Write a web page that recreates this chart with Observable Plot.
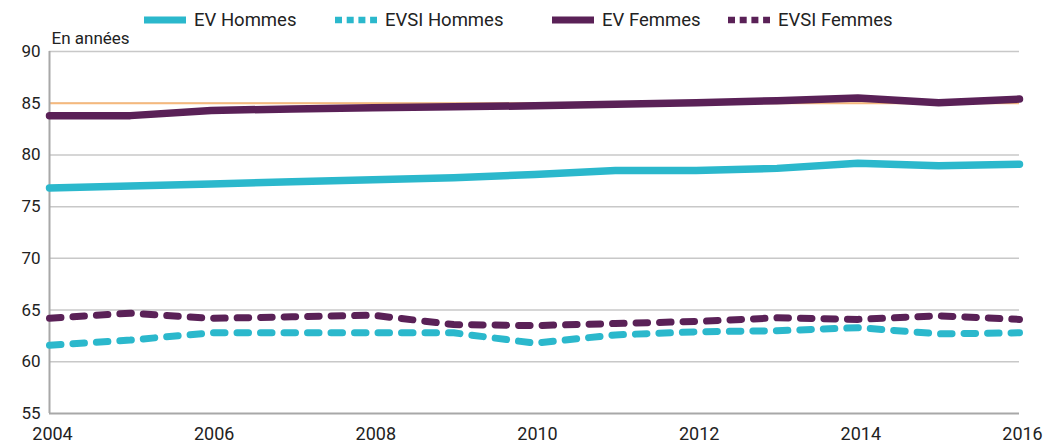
<!DOCTYPE html>
<html>
<head>
<meta charset="utf-8">
<script src="https://cdn.jsdelivr.net/npm/d3@7"></script>
<script src="https://cdn.jsdelivr.net/npm/@observablehq/plot@0.6"></script>
<style>
  html, body { margin: 0; padding: 0; background: #fff; }
  #wrap { width: 1049px; font-family: Roboto, sans-serif; color: #222; }
  #legend { position: relative; width: 1049px; height: 30px; }
  .item { position: absolute; top: 0; height: 40px; display: flex; align-items: center; font-size: 18.5px; white-space: nowrap; }
  .item svg { margin-right: 8px; }
  #chart svg { display: block; }
</style>
</head>
<body>
<div id="wrap">
  <div id="legend"></div>
  <div id="chart"></div>
</div>
<script>
// ---- Data ----
const years      = [2004, 2005, 2006, 2007, 2008, 2009, 2010, 2011, 2012, 2013, 2014, 2015, 2016];
const evHommes   = [76.8, 77.0, 77.2, 77.4, 77.6, 77.8, 78.1, 78.5, 78.5, 78.7, 79.2, 78.95, 79.1];
const evsiHommes = [61.6, 62.1, 62.8, 62.8, 62.8, 62.8, 61.8, 62.6, 62.9, 63.0, 63.3, 62.7, 62.8];
const evFemmes   = [83.8, 83.8, 84.3, 84.45, 84.55, 84.65, 84.75, 84.9, 85.05, 85.25, 85.5, 85.05, 85.4];
const evsiFemmes = [64.2, 64.7, 64.2, 64.35, 64.5, 63.6, 63.5, 63.7, 63.9, 64.25, 64.1, 64.45, 64.1];

const seriesNames = ["EV Hommes", "EVSI Hommes", "EV Femmes", "EVSI Femmes"];
const xTicks = [2004, 2006, 2008, 2010, 2012, 2014, 2016];
const yTicks = [55, 60, 65, 70, 75, 80, 85, 90];
const refLine = [85];
const yLabel = "En années";

// ---- Styles ----
const cyan = "#2bb8cc";
const purple = "#5a2157";
const styles = {
  "EV Hommes":   {color: cyan,   dash: null},
  "EVSI Hommes": {color: cyan,   dash: "11.5 12"},
  "EV Femmes":   {color: purple, dash: null},
  "EVSI Femmes": {color: purple, dash: "11.5 12"}
};
const legendLeft = [144, 335, 552, 728];

const valuesBySeries = {
  "EV Hommes": evHommes,
  "EVSI Hommes": evsiHommes,
  "EV Femmes": evFemmes,
  "EVSI Femmes": evsiFemmes
};
const table = seriesNames.flatMap(s => years.map((yr, i) => ({series: s, year: yr, value: valuesBySeries[s][i]})));

// ---- Legend ----
const legend = document.getElementById("legend");
seriesNames.forEach((s, i) => {
  const st = styles[s];
  const item = document.createElement("div");
  item.className = "item";
  item.style.left = legendLeft[i] + "px";
  const dashAttr = st.dash ? `stroke-dasharray="7 4.7"` : "";
  item.innerHTML = `<svg width="42" height="8"><line x1="0" y1="4" x2="42" y2="4" stroke="${st.color}" stroke-width="${st.dash ? 6.5 : 7}" ${dashAttr}/></svg><span>${s}</span>`;
  legend.appendChild(item);
});

// ---- Chart ----
const lineMark = (s) => Plot.line(table.filter(d => d.series === s), {
  x: "year", y: "value",
  stroke: styles[s].color,
  strokeWidth: styles[s].dash ? 7 : 7.5,
  strokeDasharray: styles[s].dash || undefined,
  strokeLinejoin: "round",
  curve: "linear"
});

const chart = Plot.plot({
  width: 1049,
  height: 414,
  marginLeft: 49,
  marginRight: 30,
  marginTop: 21,
  marginBottom: 31,
  style: {fontFamily: "Roboto, sans-serif", fontSize: "17px", color: "#222", background: "white", overflow: "visible"},
  x: {domain: [2004, 2016], label: null},
  y: {domain: [55, 90], label: null},
  marks: [
    Plot.ruleY(yTicks.filter(t => t !== 55), {stroke: "#c8c8c8", strokeWidth: 1.5}),
    Plot.ruleY(refLine, {stroke: "#f6b97c", strokeWidth: 2}),
    Plot.ruleX([2004], {stroke: "#a8a8a8", strokeWidth: 2}),
    Plot.ruleY([55], {stroke: "#a8a8a8", strokeWidth: 2}),
    lineMark("EV Hommes"),
    lineMark("EVSI Hommes"),
    lineMark("EV Femmes"),
    lineMark("EVSI Femmes"),
    Plot.axisX({ticks: xTicks, tickSize: 0, tickPadding: 14, fontSize: 18, dx: 3, tickFormat: d => String(d), label: null}),
    Plot.axisY({ticks: yTicks, tickSize: 0, tickPadding: 9, fontSize: 17, label: null}),
    Plot.text([yLabel], {frameAnchor: "top-left", textAnchor: "start", dx: 2, dy: -20, fontSize: 17, fill: "#222"})
  ]
});
document.getElementById("chart").appendChild(chart);
</script>
</body>
</html>
